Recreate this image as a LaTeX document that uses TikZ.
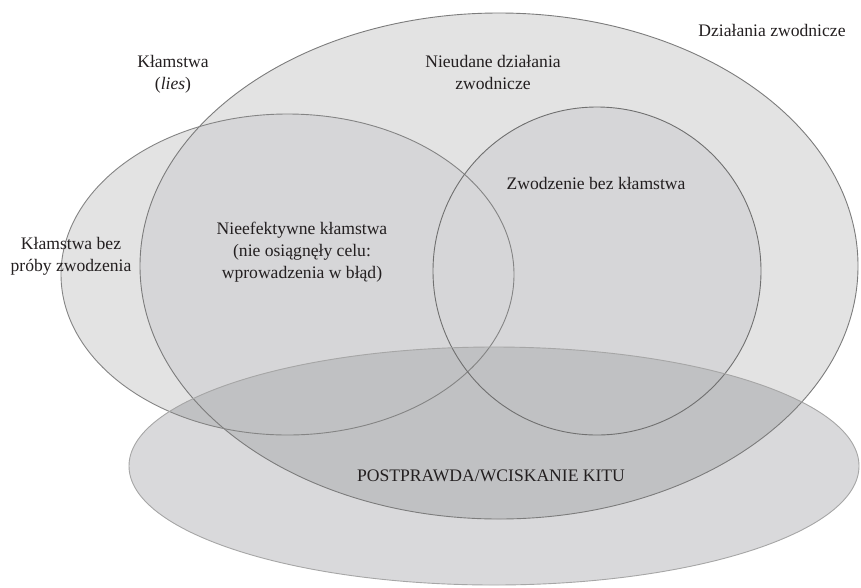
\documentclass[tikz,border=0pt]{standalone}
\usepackage{fontspec}
\setmainfont{Liberation Serif}
\begin{document}
\begin{tikzpicture}[x=1pt,y=-1pt,
  lbl/.style={text=inkc, font=\fontsize{17.6}{22}\selectfont, align=center, inner sep=0pt},
  rim/.style={line width=0.9pt}]
\definecolor{inkc}{HTML}{231F20}
\definecolor{paleA}{HTML}{E3E3E3}
\definecolor{paleB}{HTML}{D6D6D8}
\definecolor{paleC}{HTML}{D9D9DB}
\definecolor{deepC}{HTML}{C0C1C3}
\definecolor{rimA}{HTML}{7C7C7C}
\definecolor{rimB}{HTML}{848484}
\definecolor{rimC}{HTML}{707070}
\definecolor{rimD}{HTML}{A6A6A6}
% canvas
\fill[white] (0,0) rectangle (861,587);
\useasboundingbox (0,0) rectangle (861,587);
% base fills: deceptive actions and lies
\fill[paleA] (499,266) ellipse [x radius=359pt, y radius=253pt];
\fill[paleA] (287.5,274.5) ellipse [x radius=226.5pt, y radius=160.5pt];
% overlaps inside deceptive actions
\begin{scope}
  \clip (499,266) ellipse [x radius=359pt, y radius=253pt];
  \fill[paleB] (287.5,274.5) ellipse [x radius=226.5pt, y radius=160.5pt];
  \fill[paleB] (597,271) circle [radius=164pt];
\end{scope}
% post-truth ellipse
\fill[paleC] (494,466) ellipse [x radius=365pt, y radius=119pt];
\begin{scope}
  \clip (494,466) ellipse [x radius=365pt, y radius=119pt];
  \fill[deepC] (499,266) ellipse [x radius=359pt, y radius=253pt];
  \fill[deepC] (287.5,274.5) ellipse [x radius=226.5pt, y radius=160.5pt];
\end{scope}
% outlines
\draw[rim, rimA] (499,266) ellipse [x radius=359pt, y radius=253pt];
\draw[rim, rimB] (287.5,274.5) ellipse [x radius=226.5pt, y radius=160.5pt];
\draw[rim, rimC] (597,271) circle [radius=164pt];
\draw[rim, rimD] (494,466) ellipse [x radius=365pt, y radius=119pt];
% labels
\node[lbl] (lies) at (173,74) {Kłamstwa\\(\textit{lies})};
\node[lbl] (failed) at (493,72) {Nieudane działania\\zwodnicze};
\node[lbl] (decept) at (772,30) {Działania zwodnicze};
\node[lbl] (nolie) at (71,256) {Kłamstwa bez\\próby zwodzenia};
\node[lbl] (ineff) at (302,252) {Nieefektywne kłamstwa\\(nie osiągnęły celu:\\wprowadzenia w błąd)};
\node[lbl] (withoutlie) at (596,183) {Zwodzenie bez kłamstwa};
\node[lbl] (posttruth) at (491,476) {POSTPRAWDA/WCISKANIE KITU};
\end{tikzpicture}
\end{document}
